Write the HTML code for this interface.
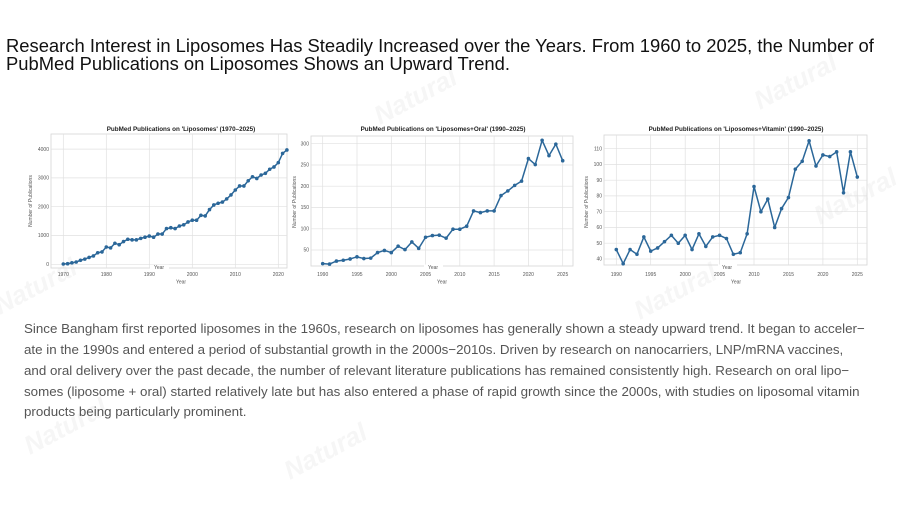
<!DOCTYPE html>
<html><head><meta charset="utf-8">
<style>
html,body{margin:0;padding:0;background:#fff;}
body{width:900px;height:506px;position:relative;overflow:hidden;font-family:"Liberation Sans",Arial,sans-serif;}
.h{position:absolute;left:6px;font-size:18.4px;color:#111;white-space:nowrap;line-height:19px;}
.p{position:absolute;left:24px;font-size:13.35px;color:#555;white-space:nowrap;line-height:18px;}
svg{position:absolute;left:0;top:0;}
</style></head>
<body>
<svg width="900" height="506" viewBox="0 0 900 506" xmlns="http://www.w3.org/2000/svg" font-family="Liberation Sans, Arial, sans-serif">
<!-- watermarks -->
<g fill="#f6f6f6" font-weight="bold" font-size="26" font-style="italic">
<text x="380" y="125" transform="rotate(-28 380 125)">Natural</text>
<text x="760" y="110" transform="rotate(-28 760 110)">Natural</text>
<text x="0" y="315" transform="rotate(-28 0 315)">Natural</text>
<text x="640" y="320" transform="rotate(-28 640 320)">Natural</text>
<text x="820" y="225" transform="rotate(-28 820 225)">Natural</text>
<text x="30" y="455" transform="rotate(-28 30 455)">Natural</text>
<text x="290" y="480" transform="rotate(-28 290 480)">Natural</text>
</g>

<!-- ========== Chart 1 ========== -->
<g>
<rect x="51" y="134" width="236" height="134" fill="none" stroke="#d6d6d6" stroke-width="0.8"/>
<g stroke="#e0e0e0" stroke-width="0.7">
<line x1="63.3" y1="134" x2="63.3" y2="268"/><line x1="106.3" y1="134" x2="106.3" y2="268"/>
<line x1="149.3" y1="134" x2="149.3" y2="268"/><line x1="192.3" y1="134" x2="192.3" y2="268"/>
<line x1="235.3" y1="134" x2="235.3" y2="268"/><line x1="278.3" y1="134" x2="278.3" y2="268"/>
<line x1="51" y1="264.3" x2="287" y2="264.3"/><line x1="51" y1="235.5" x2="287" y2="235.5"/>
<line x1="51" y1="206.7" x2="287" y2="206.7"/><line x1="51" y1="177.9" x2="287" y2="177.9"/>
<line x1="51" y1="149.1" x2="287" y2="149.1"/>
</g>
<g font-size="5" fill="#555" text-anchor="end">
<text x="49" y="266">0</text><text x="49" y="237.2">1000</text><text x="49" y="208.4">2000</text>
<text x="49" y="179.6">3000</text><text x="49" y="150.8">4000</text>
</g>
<g font-size="5" fill="#555" text-anchor="middle">
<text x="63.3" y="276">1970</text><text x="106.3" y="276">1980</text><text x="149.3" y="276">1990</text>
<text x="192.3" y="276">2000</text><text x="235.3" y="276">2010</text><text x="278.3" y="276">2020</text>
<text x="181" y="283.5">Year</text>
</g>
<rect x="150" y="264.5" width="19" height="5" fill="#fff"/>
<text x="159" y="269" font-size="5" fill="#555" text-anchor="middle">Year</text>
<text x="32" y="201" font-size="5" fill="#555" text-anchor="middle" transform="rotate(-90 32 201)">Number of Publications</text>
<text x="181" y="131" font-size="6.3" font-weight="bold" fill="#222" text-anchor="middle">PubMed Publications on 'Liposomes' (1970–2025)</text>
<g transform="translate(63.3,264.3) scale(4.3,-0.0288)" fill="none" stroke="#2b6799">
<polyline vector-effect="non-scaling-stroke" stroke-width="1.5" stroke-linejoin="round" points="0,10 1,20 2,50 3,80 4,140 5,180 6,240 7,290 8,400 9,430 10,600 11,570 12,730 13,680 14,790 15,870 16,850 17,850 18,900 19,940 20,980 21,940 22,1050 23,1050 24,1240 25,1270 26,1240 27,1330 28,1370 29,1470 30,1530 31,1530 32,1700 33,1680 34,1900 35,2060 36,2120 37,2160 38,2270 39,2410 40,2580 41,2720 42,2720 43,2900 44,3040 45,2980 46,3100 47,3160 48,3300 49,3380 50,3530 51,3850 52,3970"/>
<path vector-effect="non-scaling-stroke" stroke-width="3.6" stroke-linecap="round" d="M0,10h0M1,20h0M2,50h0M3,80h0M4,140h0M5,180h0M6,240h0M7,290h0M8,400h0M9,430h0M10,600h0M11,570h0M12,730h0M13,680h0M14,790h0M15,870h0M16,850h0M17,850h0M18,900h0M19,940h0M20,980h0M21,940h0M22,1050h0M23,1050h0M24,1240h0M25,1270h0M26,1240h0M27,1330h0M28,1370h0M29,1470h0M30,1530h0M31,1530h0M32,1700h0M33,1680h0M34,1900h0M35,2060h0M36,2120h0M37,2160h0M38,2270h0M39,2410h0M40,2580h0M41,2720h0M42,2720h0M43,2900h0M44,3040h0M45,2980h0M46,3100h0M47,3160h0M48,3300h0M49,3380h0M50,3530h0M51,3850h0M52,3970h0"/>
</g>
</g>

<!-- ========== Chart 2 ========== -->
<g>
<rect x="311" y="136" width="262" height="130" fill="none" stroke="#d6d6d6" stroke-width="0.8"/>
<g stroke="#e0e0e0" stroke-width="0.7">
<line x1="322.7" y1="136" x2="322.7" y2="266"/><line x1="357" y1="136" x2="357" y2="266"/>
<line x1="391.3" y1="136" x2="391.3" y2="266"/><line x1="425.6" y1="136" x2="425.6" y2="266"/>
<line x1="459.8" y1="136" x2="459.8" y2="266"/><line x1="494.1" y1="136" x2="494.1" y2="266"/>
<line x1="528.4" y1="136" x2="528.4" y2="266"/><line x1="562.7" y1="136" x2="562.7" y2="266"/>
<line x1="311" y1="250" x2="573" y2="250"/><line x1="311" y1="228.8" x2="573" y2="228.8"/>
<line x1="311" y1="207.5" x2="573" y2="207.5"/><line x1="311" y1="186.2" x2="573" y2="186.2"/>
<line x1="311" y1="165" x2="573" y2="165"/><line x1="311" y1="143.7" x2="573" y2="143.7"/>
</g>
<g font-size="5" fill="#555" text-anchor="end">
<text x="309" y="251.7">50</text><text x="309" y="230.5">100</text><text x="309" y="209.2">150</text>
<text x="309" y="187.9">200</text><text x="309" y="166.7">250</text><text x="309" y="145.4">300</text>
</g>
<g font-size="5" fill="#555" text-anchor="middle">
<text x="322.7" y="276">1990</text><text x="357" y="276">1995</text><text x="391.3" y="276">2000</text>
<text x="425.6" y="276">2005</text><text x="459.8" y="276">2010</text><text x="494.1" y="276">2015</text>
<text x="528.4" y="276">2020</text><text x="562.7" y="276">2025</text>
<text x="442" y="283.5">Year</text>
</g>
<rect x="424" y="264.5" width="19" height="5" fill="#fff"/>
<text x="433" y="269" font-size="5" fill="#555" text-anchor="middle">Year</text>
<text x="296" y="202" font-size="5" fill="#555" text-anchor="middle" transform="rotate(-90 296 202)">Number of Publications</text>
<text x="443" y="131" font-size="6.3" font-weight="bold" fill="#222" text-anchor="middle">PubMed Publications on 'Liposomes+Oral' (1990–2025)</text>
<g transform="translate(322.7,271.3) scale(6.857,-0.4253)" fill="none" stroke="#2b6799">
<polyline vector-effect="non-scaling-stroke" stroke-width="1.5" stroke-linejoin="round" points="0,18 1,17 2,24 3,26 4,29 5,34 6,30 7,31 8,44 9,49 10,44 11,59 12,51 13,69 14,54 15,80 16,84 17,85 18,78 19,99 20,99 21,106 22,142 23,138 24,142 25,142 26,178 27,189 28,202 29,212 30,265 31,251 32,308 33,272 34,299 35,260"/>
<path vector-effect="non-scaling-stroke" stroke-width="3.6" stroke-linecap="round" d="M0,18h0M1,17h0M2,24h0M3,26h0M4,29h0M5,34h0M6,30h0M7,31h0M8,44h0M9,49h0M10,44h0M11,59h0M12,51h0M13,69h0M14,54h0M15,80h0M16,84h0M17,85h0M18,78h0M19,99h0M20,99h0M21,106h0M22,142h0M23,138h0M24,142h0M25,142h0M26,178h0M27,189h0M28,202h0M29,212h0M30,265h0M31,251h0M32,308h0M33,272h0M34,299h0M35,260h0"/>
</g>
</g>

<!-- ========== Chart 3 ========== -->
<g>
<rect x="604" y="135" width="263" height="130" fill="none" stroke="#d6d6d6" stroke-width="0.8"/>
<g stroke="#e0e0e0" stroke-width="0.7">
<line x1="616.3" y1="135" x2="616.3" y2="265"/><line x1="650.7" y1="135" x2="650.7" y2="265"/>
<line x1="685.2" y1="135" x2="685.2" y2="265"/><line x1="719.6" y1="135" x2="719.6" y2="265"/>
<line x1="754" y1="135" x2="754" y2="265"/><line x1="788.5" y1="135" x2="788.5" y2="265"/>
<line x1="822.9" y1="135" x2="822.9" y2="265"/><line x1="857.3" y1="135" x2="857.3" y2="265"/>
<line x1="604" y1="259" x2="867" y2="259"/><line x1="604" y1="243.2" x2="867" y2="243.2"/>
<line x1="604" y1="227.5" x2="867" y2="227.5"/><line x1="604" y1="211.7" x2="867" y2="211.7"/>
<line x1="604" y1="195.9" x2="867" y2="195.9"/><line x1="604" y1="180.2" x2="867" y2="180.2"/>
<line x1="604" y1="164.4" x2="867" y2="164.4"/><line x1="604" y1="148.7" x2="867" y2="148.7"/>
</g>
<g font-size="5" fill="#555" text-anchor="end">
<text x="602" y="260.7">40</text><text x="602" y="244.9">50</text><text x="602" y="229.2">60</text>
<text x="602" y="213.4">70</text><text x="602" y="197.6">80</text><text x="602" y="181.9">90</text>
<text x="602" y="166.1">100</text><text x="602" y="150.4">110</text>
</g>
<g font-size="5" fill="#555" text-anchor="middle">
<text x="616.3" y="276">1990</text><text x="650.7" y="276">1995</text><text x="685.2" y="276">2000</text>
<text x="719.6" y="276">2005</text><text x="754" y="276">2010</text><text x="788.5" y="276">2015</text>
<text x="822.9" y="276">2020</text><text x="857.3" y="276">2025</text>
<text x="736" y="283.5">Year</text>
</g>
<rect x="718" y="264.5" width="19" height="5" fill="#fff"/>
<text x="727" y="269" font-size="5" fill="#555" text-anchor="middle">Year</text>
<text x="588" y="202" font-size="5" fill="#555" text-anchor="middle" transform="rotate(-90 588 202)">Number of Publications</text>
<text x="736" y="131" font-size="6.3" font-weight="bold" fill="#222" text-anchor="middle">PubMed Publications on 'Liposomes+Vitamin' (1990–2025)</text>
<g transform="translate(616.3,322.04) scale(6.886,-1.576)" fill="none" stroke="#2b6799">
<polyline vector-effect="non-scaling-stroke" stroke-width="1.5" stroke-linejoin="round" points="0,46 1,37 2,46 3,43 4,54 5,45 6,47 7,51 8,55 9,50 10,55 11,46 12,56 13,48 14,54 15,55 16,53 17,43 18,44 19,56 20,86 21,70 22,78 23,60 24,72 25,79 26,97 27,102 28,115 29,99 30,106 31,105 32,108 33,82 34,108 35,92"/>
<path vector-effect="non-scaling-stroke" stroke-width="3.6" stroke-linecap="round" d="M0,46h0M1,37h0M2,46h0M3,43h0M4,54h0M5,45h0M6,47h0M7,51h0M8,55h0M9,50h0M10,55h0M11,46h0M12,56h0M13,48h0M14,54h0M15,55h0M16,53h0M17,43h0M18,44h0M19,56h0M20,86h0M21,70h0M22,78h0M23,60h0M24,72h0M25,79h0M26,97h0M27,102h0M28,115h0M29,99h0M30,106h0M31,105h0M32,108h0M33,82h0M34,108h0M35,92h0"/>
</g>
</g>
</svg>

<div class="h" style="top:36px;">Research Interest in Liposomes Has Steadily Increased over the Years. From 1960 to 2025, the Number of</div>
<div class="h" style="top:54px;">PubMed Publications on Liposomes Shows an Upward Trend.</div>

<div class="p" style="top:320px;">Since Bangham first reported liposomes in the 1960s, research on liposomes has generally shown a steady upward trend. It began to acceler−</div>
<div class="p" style="top:341px;">ate in the 1990s and entered a period of substantial growth in the 2000s−2010s. Driven by research on nanocarriers, LNP/mRNA vaccines,</div>
<div class="p" style="top:362px;">and oral delivery over the past decade, the number of relevant literature publications has remained consistently high. Research on oral lipo−</div>
<div class="p" style="top:383px;">somes (liposome + oral) started relatively late but has also entered a phase of rapid growth since the 2000s, with studies on liposomal vitamin</div>
<div class="p" style="top:403px;">products being particularly prominent.</div>
</body></html>
